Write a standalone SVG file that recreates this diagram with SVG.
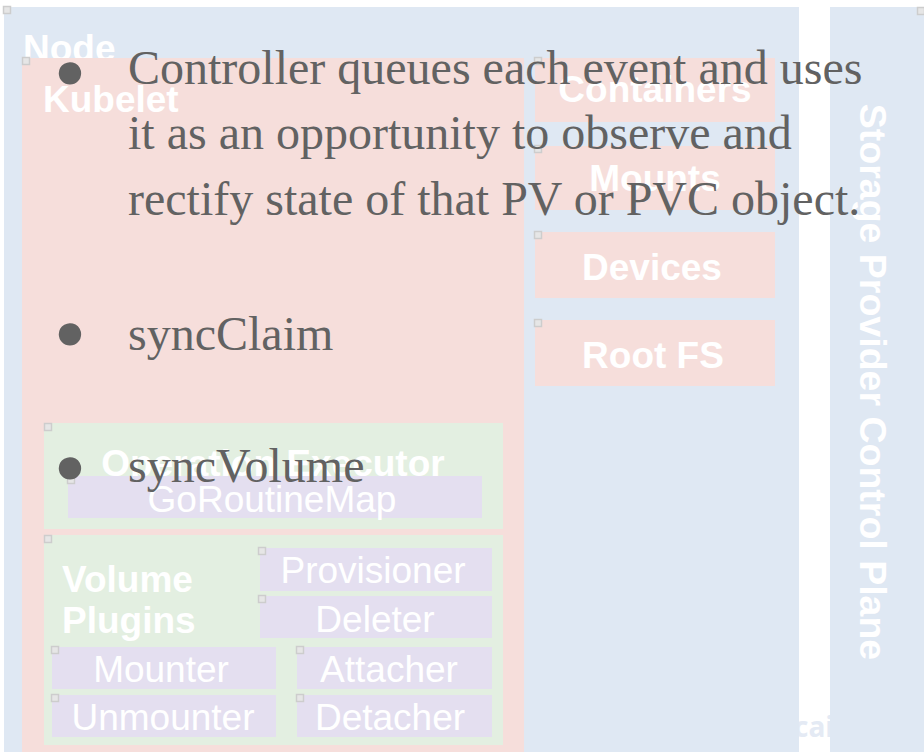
<svg xmlns="http://www.w3.org/2000/svg" width="924" height="752" viewBox="0 0 924 752">
<style>
.node-blue{fill:#dfe8f3}
.pink{fill:#f6dedb}
.green{fill:#e3efe1}
.lav{fill:#e4dff0}
.handle{fill:#e6e6e6;stroke:#cdcdcd;stroke-width:1.5}
.lb{font-family:"Liberation Sans",Arial,sans-serif;font-weight:bold;font-size:37px;fill:#ffffff}
.lr{font-family:"Liberation Sans",Arial,sans-serif;font-size:37px;fill:#ffffff}
.mid{text-anchor:middle}
.body{font-family:"Liberation Serif","Times New Roman",serif;font-size:48px;fill:#626262}
.bul{font-family:"Liberation Sans",Arial,sans-serif;font-size:52px;fill:#626262;text-anchor:middle}
.ghost{font-family:"Open Sans","Liberation Sans",sans-serif;font-weight:bold;font-size:28px;fill:#e4eaf4}
</style>
<rect width="924" height="752" fill="#ffffff"/>
<text class="ghost" x="794" y="737">cai</text>
<g id="node">
<rect class="node-blue" x="4" y="7" width="795" height="745"/>
<rect class="handle" x="3.5" y="6.5" width="7" height="7"/>
<text class="lb" x="23" y="61">Node</text>
</g>
<g id="storage-provider">
<rect class="node-blue" x="830" y="7" width="94" height="745"/>
<rect class="handle" x="917.5" y="7.5" width="7" height="7"/>
<text class="lb mid" transform="translate(860,382) rotate(90)" style="font-size:37.5px">Storage Provider Control Plane</text>
</g>
<g id="kubelet">
<rect class="pink" x="22" y="58" width="502" height="694"/>
<rect class="handle" x="22.5" y="57.5" width="7" height="7"/>
<text class="lb" x="43" y="112">Kubelet</text>
</g>
<g id="containers">
<rect class="pink" x="535" y="58" width="240" height="64"/>
<rect class="handle" x="534.5" y="57.5" width="7" height="7"/>
<text class="lb mid" x="655" y="102">Containers</text>
</g>
<g id="mounts">
<rect class="pink" x="535" y="146" width="240" height="64"/>
<rect class="handle" x="534.5" y="145.5" width="7" height="7"/>
<text class="lb mid" x="655" y="191">Mounts</text>
</g>
<g id="devices">
<rect class="pink" x="535" y="232" width="240" height="66"/>
<rect class="handle" x="534.5" y="231.5" width="7" height="7"/>
<text class="lb mid" x="652" y="280">Devices</text>
</g>
<g id="rootfs">
<rect class="pink" x="535" y="320" width="240" height="66"/>
<rect class="handle" x="534.5" y="319.5" width="7" height="7"/>
<text class="lb mid" x="653" y="368">Root FS</text>
</g>
<g id="operation-executor">
<rect class="green" x="44" y="423" width="459" height="106"/>
<rect class="handle" x="44.5" y="423.5" width="7" height="7"/>
<text class="lb mid" x="273" y="476">Operation Executor</text>
</g>
<g id="goroutinemap">
<rect class="lav" x="68" y="476" width="414" height="42"/>
<rect class="handle" x="67.5" y="476.5" width="7" height="7"/>
<text class="lr mid" x="272" y="512">GoRoutineMap</text>
</g>
<g id="volume-plugins">
<rect class="green" x="44" y="535" width="459" height="210"/>
<rect class="handle" x="44.5" y="535.5" width="7" height="7"/>
<text class="lb" x="62" y="592">Volume</text>
<text class="lb" x="62" y="633">Plugins</text>
</g>
<g id="provisioner">
<rect class="lav" x="260" y="548" width="232" height="43"/>
<rect class="handle" x="258.5" y="547.5" width="7" height="7"/>
<text class="lr mid" x="373" y="583">Provisioner</text>
</g>
<g id="deleter">
<rect class="lav" x="260" y="596" width="232" height="42"/>
<rect class="handle" x="258.5" y="595.5" width="7" height="7"/>
<text class="lr mid" x="375" y="632">Deleter</text>
</g>
<g id="mounter">
<rect class="lav" x="52" y="647" width="224" height="42"/>
<rect class="handle" x="51.5" y="646.5" width="7" height="7"/>
<text class="lr mid" x="161" y="682">Mounter</text>
</g>
<g id="attacher">
<rect class="lav" x="297" y="647" width="195" height="42"/>
<rect class="handle" x="296.5" y="646.5" width="7" height="7"/>
<text class="lr mid" x="389" y="682">Attacher</text>
</g>
<g id="unmounter">
<rect class="lav" x="52" y="695" width="224" height="42"/>
<rect class="handle" x="51.5" y="694.5" width="7" height="7"/>
<text class="lr mid" x="163" y="730">Unmounter</text>
</g>
<g id="detacher">
<rect class="lav" x="297" y="695" width="195" height="42"/>
<rect class="handle" x="296.5" y="694.5" width="7" height="7"/>
<text class="lr mid" x="390" y="730">Detacher</text>
</g>
<g id="connectors"></g>
<g id="bullet-text">
<text class="bul" x="70" y="88">●</text>
<text class="body" x="128" y="84">Controller queues each event and uses</text>
<text class="body" x="128" y="149">it as an opportunity to observe and</text>
<text class="body" x="128" y="215">rectify state of that PV or PVC object.</text>
<text class="bul" x="70" y="349">●</text>
<text class="body" x="128" y="350">syncClaim</text>
<text class="bul" x="70" y="483">●</text>
<text class="body" x="128" y="482">syncVolume</text>
</g>
</svg>
